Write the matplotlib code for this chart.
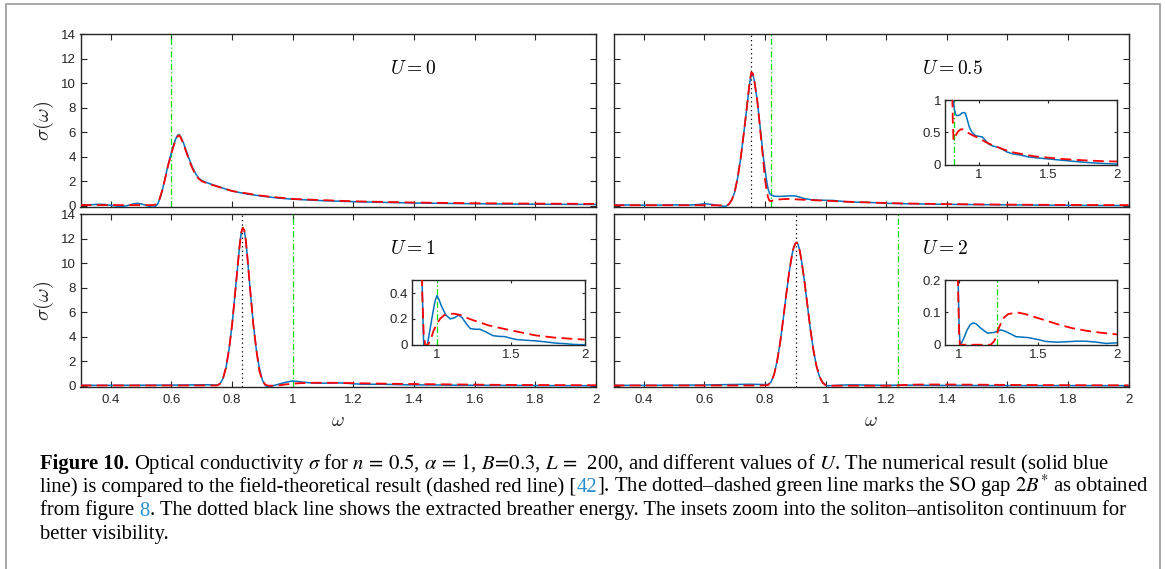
import matplotlib
matplotlib.use('Agg')
import matplotlib.pyplot as plt
from matplotlib.patches import Rectangle

# ---------------- data ----------------
U_labels = ['$U=0$', '$U=0.5$', '$U=1$', '$U=2$']
so_gap = [0.6, 0.82, 1.0, 1.24]          # dotted-dashed green line
breather = [None, 0.755, 0.834, 0.903]    # dotted black line

# U = 0
x_b0 = [0.30, 0.33, 0.36, 0.38, 0.41, 0.43, 0.45, 0.47, 0.485, 0.50, 0.52, 0.535, 0.545, 0.555,
        0.565, 0.575, 0.585, 0.595, 0.605, 0.613, 0.62, 0.625, 0.63, 0.64, 0.65, 0.66, 0.67, 0.68,
        0.69, 0.70, 0.72, 0.75, 0.78, 0.80, 0.85, 0.90, 0.95, 1.00, 1.10, 1.20, 1.30, 1.40, 1.50,
        1.60, 1.70, 1.80, 1.90, 2.00]
y_b0 = [0.05, 0.07, 0.12, 0.10, 0.0, -0.07, -0.02, 0.12, 0.2, 0.15, 0.0, -0.12, -0.10, 0.15,
        0.8, 1.8, 2.9, 3.9, 4.8, 5.4, 5.75, 5.8, 5.65, 5.1, 4.4, 3.7, 3.1, 2.6,
        2.25, 2.05, 1.85, 1.6, 1.35, 1.2, 0.95, 0.78, 0.63, 0.53, 0.41, 0.33, 0.27, 0.22, 0.19,
        0.16, 0.14, 0.12, 0.11, 0.10]
x_r0 = [0.30, 0.40, 0.50, 0.54, 0.55, 0.56, 0.57, 0.58, 0.59, 0.60, 0.61, 0.62, 0.625, 0.63,
        0.64, 0.65, 0.66, 0.67, 0.68, 0.69, 0.70, 0.72, 0.75, 0.80, 0.90, 1.00, 1.20, 1.40, 1.60,
        1.80, 2.00]
y_r0 = [0.05, 0.05, 0.05, 0.05, 0.1, 0.5, 1.3, 2.3, 3.4, 4.3, 5.1, 5.65, 5.75, 5.6,
        5.0, 4.3, 3.6, 3.0, 2.5, 2.2, 2.0, 1.8, 1.58, 1.2, 0.8, 0.55, 0.36, 0.26, 0.2,
        0.17, 0.15]

# U = 0.5
x_b1 = [0.30, 0.35, 0.40, 0.45, 0.50, 0.55, 0.58, 0.60, 0.62, 0.65, 0.67, 0.68, 0.69, 0.70,
        0.71, 0.72, 0.73, 0.74, 0.745, 0.75, 0.755, 0.76, 0.765, 0.775, 0.785, 0.795, 0.805,
        0.81, 0.815, 0.82, 0.83, 0.84, 0.86, 0.875, 0.89, 0.90, 0.915, 0.93, 0.95, 0.975, 1.00,
        1.025, 1.045, 1.07, 1.10, 1.14, 1.17, 1.20, 1.24, 1.30, 1.36, 1.45, 1.55, 1.65, 1.75,
        1.85, 1.95, 2.00]
y_b1 = [0.05, 0.06, 0.04, 0.05, 0.07, 0.05, 0.10, 0.16, 0.12, 0.0, -0.06, 0.1, 0.45, 1.1,
        2.3, 3.9, 5.9, 8.0, 9.1, 10.1, 10.8, 10.7, 10.2, 8.5, 6.2, 3.9, 2.1,
        1.4, 1.0, 0.88, 0.78, 0.76, 0.77, 0.80, 0.81, 0.80, 0.70, 0.58, 0.50, 0.45, 0.44,
        0.43, 0.38, 0.32, 0.29, 0.27, 0.24, 0.20, 0.17, 0.15, 0.12, 0.10, 0.08, 0.06, 0.04,
        0.025, 0.015, 0.01]
x_r1 = [0.30, 0.40, 0.50, 0.60, 0.67, 0.68, 0.69, 0.70, 0.71, 0.72, 0.73, 0.74, 0.745, 0.75,
        0.755, 0.76, 0.765, 0.775, 0.785, 0.795, 0.80, 0.805, 0.81, 0.815, 0.82, 0.83, 0.85,
        0.87, 0.88, 0.90, 0.95, 1.00, 1.05, 1.10, 1.15, 1.20, 1.25, 1.30, 1.40, 1.50, 1.60,
        1.70, 1.80, 1.90, 2.00]
y_r1 = [0.04, 0.04, 0.04, 0.04, 0.03, 0.1, 0.45, 1.1, 2.3, 3.9, 5.9, 8.0, 9.1, 10.2,
        10.9, 10.8, 10.2, 8.5, 6.0, 3.5, 2.2, 1.3, 0.7, 0.4, 0.38, 0.45, 0.52,
        0.55, 0.55, 0.52, 0.46, 0.41, 0.35, 0.30, 0.26, 0.22, 0.19, 0.17, 0.13, 0.11, 0.09,
        0.075, 0.065, 0.055, 0.05]

# U = 1
x_b2 = [0.30, 0.40, 0.50, 0.60, 0.65, 0.70, 0.73, 0.75, 0.76, 0.77, 0.78, 0.79, 0.80, 0.81,
        0.82, 0.825, 0.83, 0.835, 0.84, 0.845, 0.85, 0.86, 0.87, 0.88, 0.89, 0.90, 0.905, 0.91,
        0.915, 0.925, 0.935, 0.95, 0.965, 0.98, 0.99, 1.00, 1.01, 1.03, 1.06, 1.09, 1.12, 1.147,
        1.17, 1.20, 1.226, 1.26, 1.29, 1.33, 1.38, 1.42, 1.46, 1.50, 1.54, 1.60, 1.67, 1.75,
        1.81, 1.87, 1.93, 2.00]
y_b2 = [0.03, 0.03, 0.04, 0.05, 0.06, 0.08, 0.07, 0.05, 0.15, 0.6, 1.5, 3.0, 5.0, 7.6,
        10.2, 11.5, 12.5, 12.9, 12.7, 11.9, 10.6, 7.7, 5.0, 2.9, 1.4, 0.45, 0.2, 0.0,
        -0.05, -0.1, 0.0, 0.1, 0.2, 0.3, 0.35, 0.38, 0.36, 0.30, 0.23, 0.20, 0.21, 0.23,
        0.21, 0.16, 0.125, 0.12, 0.12, 0.10, 0.07, 0.065, 0.063, 0.05, 0.04, 0.035, 0.03, 0.02,
        0.012, 0.008, 0.002, 0.0]
x_r2 = [0.30, 0.40, 0.50, 0.60, 0.70, 0.75, 0.76, 0.77, 0.78, 0.79, 0.80, 0.81, 0.82, 0.825,
        0.83, 0.835, 0.84, 0.845, 0.85, 0.86, 0.87, 0.88, 0.89, 0.90, 0.91, 0.92, 0.94, 0.96,
        0.977, 1.00, 1.02, 1.05, 1.08, 1.12, 1.16, 1.22, 1.27, 1.35, 1.45, 1.55, 1.67, 1.80,
        1.90, 2.00]
y_r2 = [0.02, 0.02, 0.02, 0.02, 0.02, 0.02, 0.15, 0.6, 1.5, 3.0, 5.0, 7.6, 10.2, 11.5,
        12.5, 12.9, 12.7, 11.9, 10.6, 7.7, 5.0, 2.9, 1.2, 0.4, 0.08, 0.0, 0.0, 0.05,
        0.11, 0.16, 0.20, 0.23, 0.24, 0.24, 0.23, 0.20, 0.18, 0.15, 0.124, 0.10, 0.072, 0.055,
        0.047, 0.04]

# U = 2
x_b3 = [0.30, 0.40, 0.50, 0.60, 0.70, 0.75, 0.79, 0.81, 0.82, 0.83, 0.84, 0.85, 0.86, 0.87,
        0.88, 0.89, 0.895, 0.90, 0.905, 0.91, 0.915, 0.92, 0.93, 0.94, 0.95, 0.96, 0.97, 0.98,
        0.99, 1.00, 1.006, 1.01, 1.03, 1.05, 1.07, 1.09, 1.11, 1.14, 1.18, 1.22, 1.266, 1.30,
        1.36, 1.44, 1.50, 1.55, 1.62, 1.67, 1.74, 1.80, 1.87, 1.93, 2.00]
y_b3 = [0.03, 0.03, 0.04, 0.06, 0.10, 0.12, 0.10, 0.10, 0.3, 0.9, 2.0, 3.5, 5.4, 7.4,
        9.3, 10.8, 11.3, 11.6, 11.7, 11.5, 11.0, 10.3, 8.6, 6.6, 4.6, 2.9, 1.6, 0.75,
        0.3, 0.06, 0.0, 0.0, 0.02, 0.045, 0.062, 0.068, 0.064, 0.05, 0.036, 0.038, 0.046, 0.04,
        0.025, 0.022, 0.016, 0.01, 0.008, 0.009, 0.011, 0.011, 0.008, 0.004, 0.006]
x_r3 = [0.30, 0.40, 0.50, 0.60, 0.70, 0.75, 0.79, 0.81, 0.82, 0.83, 0.84, 0.85, 0.86, 0.87,
        0.88, 0.89, 0.895, 0.90, 0.905, 0.91, 0.915, 0.92, 0.93, 0.94, 0.95, 0.96, 0.97, 0.98,
        0.99, 1.00, 1.005, 1.10, 1.20, 1.22, 1.234, 1.25, 1.277, 1.31, 1.37, 1.42, 1.47, 1.55,
        1.64, 1.72, 1.81, 1.90, 2.00]
y_r3 = [0.02, 0.02, 0.02, 0.02, 0.02, 0.02, 0.02, 0.05, 0.3, 0.9, 2.0, 3.5, 5.4, 7.4,
        9.3, 10.8, 11.3, 11.6, 11.7, 11.5, 11.0, 10.3, 8.6, 6.6, 4.6, 2.9, 1.6, 0.75,
        0.25, 0.04, 0.0, 0.0, 0.0, 0.01, 0.023, 0.05, 0.081, 0.095, 0.10, 0.095, 0.087, 0.075,
        0.061, 0.051, 0.043, 0.037, 0.032]

blue_x = [x_b0, x_b1, x_b2, x_b3]
blue_y = [y_b0, y_b1, y_b2, y_b3]
red_x = [x_r0, x_r1, x_r2, x_r3]
red_y = [y_r0, y_r1, y_r2, y_r3]

main_xticks = [0.4, 0.6, 0.8, 1.0, 1.2, 1.4, 1.6, 1.8, 2.0]
main_xticklabels = ['0.4', '0.6', '0.8', '1', '1.2', '1.4', '1.6', '1.8', '2']
main_yticks = [0, 2, 4, 6, 8, 10, 12, 14]
main_yticklabels = ['0', '2', '4', '6', '8', '10', '12', '14']

inset_xlim = [None, (0.755, 2.0), (0.834, 2.0), (0.912, 2.0)]
inset_ylim = [None, (0, 1), (0, 0.5), (0, 0.2)]
inset_yticks = [None, [0, 0.5, 1], [0, 0.2, 0.4], [0, 0.1, 0.2]]
inset_yticklabels = [None, ['0', '0.5', '1'], ['0', '0.2', '0.4'], ['0', '0.1', '0.2']]
inset_xticks = [1, 1.5, 2]
inset_xticklabels = ['1', '1.5', '2']

# ---------------- style ----------------
plt.rcParams['font.family'] = ['Liberation Sans', 'DejaVu Sans']
plt.rcParams['mathtext.fontset'] = 'cm'

BLUE = '#0072BD'
RED = '#FF0000'
GREEN = '#00E000'
AXC = '#262626'

W, H = 1165, 569
fig = plt.figure(figsize=(W / 100, H / 100), dpi=100)


def px_rect(x0, y0, x1, y1):
    return [x0 / W, 1 - y1 / H, (x1 - x0) / W, (y1 - y0) / H]


positions = [px_rect(80.5, 34.3, 596, 207.3), px_rect(613.5, 34.3, 1128.5, 207.3),
             px_rect(80.5, 214.3, 596, 387.3), px_rect(613.5, 214.3, 1128.5, 387.3)]


def style(ax, ticklen, fs):
    ax.tick_params(direction='in', top=True, right=True, length=ticklen, width=0.8,
                   color=AXC, labelcolor=AXC, labelsize=fs)
    ax.tick_params(axis='y', pad=3.5)
    ax.tick_params(axis='x', pad=5)
    for s in ax.spines.values():
        s.set_color(AXC)
        s.set_linewidth(1.0)


def draw_curves(ax, i):
    ax.plot(blue_x[i], blue_y[i], color=BLUE, lw=1.1, zorder=3)
    ax.plot(red_x[i], red_y[i], color=RED, lw=1.3, ls=(0, (6, 3)), zorder=4)
    ax.axvline(so_gap[i], color=GREEN, lw=0.9, ls=(0, (5, 2, 1, 2)), zorder=2)


for i, pos in enumerate(positions):
    ax = fig.add_axes(pos)
    draw_curves(ax, i)
    if breather[i] is not None:
        ax.axvline(breather[i], color='black', lw=0.9, ls=(0, (1, 2.5)), zorder=2)
    ax.set_xlim(0.3, 2.0)
    ax.set_ylim(-0.13, 14)
    ax.set_xticks(main_xticks)
    ax.set_yticks(main_yticks)
    style(ax, 4.5, 9.5)
    if i >= 2:
        ax.set_xticklabels(main_xticklabels)
        ax.set_xlabel(r'$\omega$', fontsize=14, color=AXC)
        ax.xaxis.set_label_coords(0.5, -0.15)
        ax.xaxis.label.set_va('top')
    else:
        ax.set_xticklabels([])
    if i % 2 == 0:
        ax.set_yticklabels(main_yticklabels)
        ax.set_ylabel(r'$\sigma(\omega)$', fontsize=15, color=AXC)
        ax.yaxis.set_label_coords(-0.048, 0.5)
    else:
        ax.set_yticklabels([])
    ax.text(1.32, 11.2, U_labels[i], fontsize=14, color='black', va='center', ha='left')

    if inset_xlim[i] is not None:
        ins = ax.inset_axes([0.644, 0.246, 0.334, 0.373])
        draw_curves(ins, i)
        ins.set_xlim(*inset_xlim[i])
        ins.set_ylim(*inset_ylim[i])
        ins.set_xticks(inset_xticks)
        ins.set_xticklabels(inset_xticklabels)
        ins.set_yticks(inset_yticks[i])
        ins.set_yticklabels(inset_yticklabels[i])
        style(ins, 2.5, 9.5)
        ins.tick_params(axis='x', pad=3)
        ins.tick_params(axis='y', pad=3)
        ins.set_facecolor('white')

# ---------------- frame ----------------
fig.patches.append(Rectangle((5.5 / W, -0.02), (1159.5 - 5.5) / W, 1.02 - 4 / H,
                             transform=fig.transFigure, fill=False, ec='#a0a0a0', lw=1.3))

# ---------------- caption ----------------
LINK = '#2a8fcf'
cap_lines = [
    [("Figure 10.", 'bold', 'black'),
     (" Optical conductivity $\\sigma$ for $n\\,=\\,0.5$, $\\alpha\\,=\\,1$, $B\\!=\\!0.3$, "
      "$L\\,=\\,$ 200, and different values of $U$. The numerical result (solid blue", 'normal', 'black')],
    [("line) is compared to the field-theoretical result (dashed red line) [", 'normal', 'black'),
     ("42", 'normal', LINK),
     ("]. The dotted\u2013dashed green line marks the SO gap $2B^{*}$ as obtained", 'normal', 'black')],
    [("from figure", 'normal', 'black'), (" 8", 'normal', LINK),
     (". The dotted black line shows the extracted breather energy. The insets zoom into the "
      "soliton\u2013antisoliton continuum for", 'normal', 'black')],
    [("better visibility.", 'normal', 'black')],
]
cap_baselines = [468.5, 492.0, 515.5, 539.0]
cap_x0 = 40.0
cap_right = 1150.0   # right end of the longest line (line 2)
base_size = 12.6

renderer = fig.canvas.get_renderer()


def draw_caption(size, keep):
    tmp1 = fig.text(0, 0, 'x x', fontsize=size, family='Liberation Serif')
    tmp2 = fig.text(0, 0, 'xx', fontsize=size, family='Liberation Serif')
    space_w = tmp1.get_window_extent(renderer).width - tmp2.get_window_extent(renderer).width
    tmp1.remove()
    tmp2.remove()
    made = []
    ends = []
    for segs, yb in zip(cap_lines, cap_baselines):
        x = cap_x0
        for s, wt, col in segs:
            lead = len(s) - len(s.lstrip(' '))
            trail = len(s) - len(s.rstrip(' '))
            x += lead * space_w
            t = fig.text(x / W, 1 - yb / H, s.strip(' '), fontsize=size, family='Liberation Serif',
                         weight=wt, color=col, va='baseline', ha='left', math_fontfamily='stix')
            made.append(t)
            bb = t.get_window_extent(renderer)
            x = bb.x1 + trail * space_w
        ends.append(x)
    if not keep:
        for t in made:
            t.remove()
    return ends


ends = draw_caption(base_size, keep=False)
fit_size = base_size * (cap_right - cap_x0) / (ends[1] - cap_x0)
draw_caption(fit_size, keep=True)

fig.savefig('out.png', dpi=100)
